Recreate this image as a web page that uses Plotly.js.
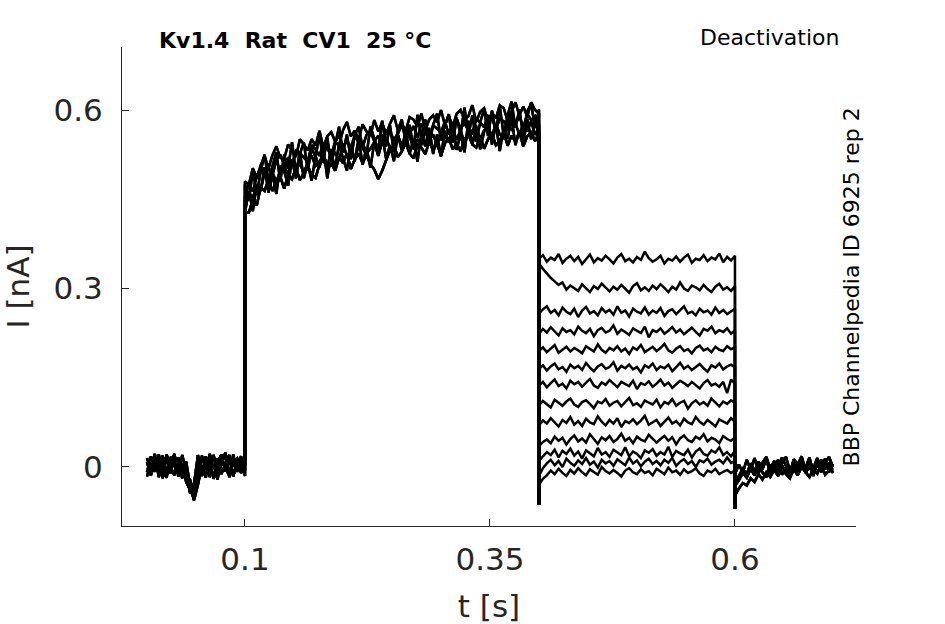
<!DOCTYPE html>
<html>
<head>
<meta charset="utf-8">
<script src="https://cdn.plot.ly/plotly-3.0.1.min.js"></script>
<style>
  html, body { margin: 0; padding: 0; background: #ffffff; }
  #chart { width: 945px; height: 624px; }
</style>
</head>
<body>
<div id="chart"></div>
<script>
// Kv1.4 deactivation protocol, 13 sweeps. Currents are read off the figure in pA,
// sampled every 4 ms; each sweep = baseline + activating step + tail step + return.
const SAMPLE_DT = 0.004; // s
const T_STEP_ON = 0.1;
const T_TAIL = 0.4;
const T_STEP_OFF = 0.6;

// capacitive transients at the tail onset and at the end of the tail step (pA)
const TAIL_SPIKE_PA = -64;
const OFF_SPIKE_PA = -70;

// 0 - 0.1 s holding current (four sweep shapes, reused round-robin)
const BASELINE_PA = [
  [8, -14, 16, -5, 19, -10, 3, 22, -16, 6, -25, -40, -52, 10, -15, 18, -6, 20, -12, 4, 24, -17, 8, 14, -10, 3],
  [-9, 18, -3, 13, -19, 21, 0, -14, 16, -8, -20, -22, -46, -12, 19, -5, 14, -20, 9, 21, -8, 16, -14, 0, 18, -6],
  [15, -5, 22, -17, 6, 14, -11, 18, 4, -19, 9, -32, -56, -30, 3, -18, 22, -3, 14, -12, 6, 20, -16, 11, -5, 12],
  [-16, 6, -8, 21, -3, -18, 17, 3, -12, 20, -9, -44, -28, 20, -9, 12, -17, 6, -21, 15, -3, -14, 21, -8, 9, -15],
];

// 0.1 - 0.4 s activating step (six sweep shapes, reused round-robin)
const ACTIVATION_PA = [
  [428, 428, 449, 440, 470, 464, 483, 464, 480, 488, 468, 491, 484, 503, 482, 495, 506, 491, 486, 508,
   518, 500, 511, 498, 520, 511, 527, 501, 517, 527, 511, 524, 509, 500, 484, 498, 516, 533, 540, 521,
   530, 545, 527, 519, 542, 537, 526, 547, 532, 544, 523, 544, 553, 534, 543, 531, 551, 559, 542, 537,
   556, 535, 551, 560, 541, 548, 564, 540, 557, 547, 563, 539, 556, 562, 548, 562],
  [447, 462, 452, 475, 464, 496, 482, 495, 479, 498, 507, 491, 516, 499, 511, 494, 512, 523, 506, 513,
   526, 505, 532, 528, 516, 543, 523, 531, 519, 539, 545, 527, 535, 546, 523, 546, 552, 537, 533, 557,
   541, 551, 557, 534, 551, 541, 564, 549, 559, 541, 564, 556, 546, 568, 550, 566, 544, 559, 565, 572,
   551, 566, 572, 556, 577, 559, 553, 572, 567, 577, 559, 576, 564, 581, 558, 572],
  [454, 476, 463, 488, 503, 491, 503, 490, 516, 525, 507, 518, 507, 531, 528, 520, 513, 541, 534, 523,
   544, 535, 524, 547, 557, 537, 548, 536, 558, 545, 537, 558, 565, 547, 557, 543, 566, 563, 550, 560,
   575, 554, 560, 573, 553, 577, 569, 552, 574, 569, 562, 581, 559, 577, 585, 569, 578, 565, 561, 585,
   579, 571, 590, 587, 567, 585, 581, 572, 595, 576, 590, 570, 594, 583, 590, 575],
  [480, 475, 502, 486, 507, 523, 502, 524, 539, 520, 518, 542, 533, 521, 551, 542, 532, 551, 540, 565,
   537, 556, 563, 547, 541, 566, 580, 556, 565, 550, 576, 564, 557, 583, 564, 579, 558, 577, 591, 566,
   577, 565, 588, 584, 572, 594, 566, 584, 591, 579, 600, 575, 590, 572, 594, 600, 583, 590, 608, 580,
   597, 603, 581, 596, 586, 608, 603, 582, 598, 613, 591, 606, 589, 613, 600, 594],
  [475, 448, 499, 457, 497, 525, 480, 506, 529, 480, 525, 502, 546, 496, 526, 546, 498, 536, 521, 558,
   514, 554, 506, 542, 572, 528, 559, 517, 557, 572, 537, 524, 572, 552, 533, 582, 539, 574, 529, 566,
   584, 546, 575, 535, 592, 555, 584, 543, 575, 594, 549, 574, 593, 545, 586, 559, 604, 557, 591, 547,
   579, 602, 556, 599, 563, 606, 557, 591, 614, 570, 601, 555, 598, 610, 571, 601],
  [428, 464, 430, 474, 464, 504, 461, 492, 459, 506, 497, 473, 517, 485, 529, 485, 511, 481, 523, 503,
   537, 485, 527, 503, 543, 519, 498, 543, 514, 553, 508, 537, 503, 546, 524, 559, 518, 541, 514, 559,
   532, 567, 526, 552, 513, 562, 539, 570, 526, 559, 522, 565, 546, 572, 533, 560, 529, 582, 542, 569,
   534, 563, 581, 542, 576, 531, 570, 552, 587, 541, 566, 544, 585, 551, 580, 558],
];

// 0.4 - 0.6 s tail currents, one per sweep (top to bottom)
const TAIL_PA = [
  [350, 356, 345, 352, 348, 358, 343, 350, 355, 346, 353, 341, 349, 357, 344, 351, 347, 355, 349, 342,
   352, 358, 346, 350, 344, 353, 348, 362, 351, 345, 349, 355, 342, 350, 347, 354, 345, 352, 357, 343,
   350, 348, 356, 346, 352, 349, 359, 344, 353, 347, 355],
  [342, 333, 325, 318, 312, 306, 310, 298, 305, 301, 296, 307, 300, 294, 304, 299, 308, 302, 295, 303,
   298, 306, 300, 293, 304, 309, 297, 302, 296, 305, 299, 307, 301, 294, 303, 298, 310, 300, 296, 305,
   302, 297, 306, 299, 294, 303, 308, 298, 302, 296, 304],
  [258, 265, 270, 259, 264, 255, 268, 261, 257, 266, 252, 263, 269, 258, 262, 255, 267, 260, 264, 256,
   270, 259, 263, 253, 266, 261, 258, 268, 256, 263, 259, 267, 254, 262, 265, 257, 263, 270, 258, 261,
   255, 266, 260, 263, 256, 268, 259, 264, 257, 262, 266],
  [224, 232, 226, 235, 228, 221, 233, 227, 230, 223, 236, 229, 225, 232, 220, 230, 234, 226, 229, 238,
   224, 231, 227, 222, 233, 229, 225, 236, 218, 230, 227, 233, 224, 229, 235, 226, 231, 223, 228, 234,
   227, 221, 232, 229, 236, 225, 230, 227, 233, 224, 230],
  [195, 201, 193, 199, 205, 192, 197, 202, 194, 200, 196, 191, 203, 198, 194, 206, 197, 192, 200, 196,
   203, 194, 199, 190, 201, 197, 205, 193, 198, 202, 195, 200, 207, 196, 192, 199, 203, 195, 198, 191,
   200, 204, 196, 199, 193, 202, 197, 195, 203, 198, 201],
  [165, 171, 162, 169, 174, 164, 168, 160, 172, 166, 170, 163, 175, 167, 161, 169, 173, 165, 168, 176,
   162, 170, 166, 172, 164, 168, 159, 171, 167, 174, 163, 169, 166, 172, 161, 168, 175, 165, 170, 163,
   168, 173, 166, 160, 171, 167, 174, 164, 169, 172, 167],
  [137, 143, 134, 141, 147, 136, 140, 132, 145, 139, 143, 135, 141, 148, 137, 133, 142, 138, 146, 140,
   134, 143, 139, 136, 145, 131, 141, 138, 144, 135, 140, 147, 137, 142, 133, 139, 145, 141, 136, 143,
   138, 132, 141, 146, 137, 140, 135, 143, 124, 147, 140],
  [104, 111, 106, 100, 113, 108, 103, 110, 115, 105, 101, 109, 112, 106, 99, 110, 107, 114, 103, 108,
   111, 102, 109, 116, 104, 107, 101, 112, 108, 105, 113, 100, 109, 106, 114, 103, 108, 111, 98, 107,
   112, 105, 109, 103, 115, 108, 102, 110, 106, 112, 108],
  [70, 78, 73, 82, 75, 68, 79, 74, 84, 71, 77, 69, 81, 75, 72, 85, 76, 70, 79, 73,
   82, 67, 77, 74, 80, 72, 78, 86, 71, 75, 79, 69, 76, 83, 73, 77, 70, 81, 75, 72,
   84, 76, 71, 79, 74, 68, 80, 77, 73, 82, 76],
  [35, 42, 46, 40, 51, 44, 49, 38, 47, 53, 43, 48, 41, 55, 46, 39, 50, 45, 52, 42,
   47, 56, 44, 49, 40, 51, 46, 43, 54, 48, 41, 47, 52, 44, 50, 38, 48, 53, 45, 42,
   51, 47, 55, 43, 49, 46, 40, 52, 47, 44, 50],
  [10, 18, 25, 20, 29, 16, 27, 22, 31, 19, 26, 14, 28, 23, 18, 32, 21, 25, 17, 29,
   24, 20, 33, 18, 26, 22, 15, 28, 24, 30, 19, 25, 21, 34, 17, 27, 23, 20, 29, 16,
   26, 31, 22, 19, 28, 24, 33, 20, 25, 18, 27],
  [-15, -2, 6, 12, 3, 10, 0, 14, 7, 2, 11, 5, 15, 4, 9, -1, 12, 6, 10, 2,
   13, 8, 3, 16, 6, 11, 1, 9, 14, 5, 10, 3, 12, 7, 15, 2, 9, 13, 5, 10,
   0, 11, 8, 14, 4, 9, 12, 6, 16, 7, 10],
  [-30, -20, -14, -6, -12, -3, -10, -15, -5, -11, -2, -9, -14, -4, -8, -13, 0, -7, -11, -5,
   -10, -16, -6, -2, -9, -12, -4, -10, -7, -14, -3, -8, -12, -1, -9, -6, -13, -4, -10, -7,
   -2, -11, -15, -6, -9, -3, -12, -8, -5, -10, -6],
];

// 0.6 - 0.7 s back at holding
const RETURN_PA = [
  [-32, -22, -10, -18, -3, -14, 6, -9, -17, 4, -6, 12, -13, 0, -18, 8, -5, 13, -10, 2, -15, 9, -3, 14, -9, 5],
  [-48, -36, -27, -31, -19, -25, -12, -21, -9, -17, -5, -15, 3, -12, -19, -4, -14, 0, -9, -17, -3, -11, 6, -13, -6, -2],
  [-12, 4, -9, 12, -4, 15, -11, 7, 17, -3, 10, -7, 16, 2, -10, 13, 4, 18, -6, 9, -2, 15, -9, 6, 17, 0],
  [-24, -15, -3, -12, 6, -7, 9, -4, 13, -11, 2, -15, 7, 17, -6, 4, -13, 10, -2, 16, -9, 3, 12, -4, 7, -10],
];

const X_TICKS = [0.1, 0.35, 0.6];
const X_TICK_TEXT = ["0.1", "0.35", "0.6"];
const Y_TICKS = [0, 0.3, 0.6];
const Y_TICK_TEXT = ["0", "0.3", "0.6"];

const INK = "#262626";
const FONT = "DejaVu Sans, Liberation Sans, sans-serif";

function segment(t0, valuesPa, xs, ys) {
  valuesPa.forEach((v, i) => {
    xs.push(t0 + i * SAMPLE_DT);
    ys.push(v / 1000); // pA -> nA
  });
}

const data = TAIL_PA.map((tail, k) => {
  const xs = [];
  const ys = [];
  segment(0, BASELINE_PA[k % BASELINE_PA.length], xs, ys);
  segment(T_STEP_ON, ACTIVATION_PA[k % ACTIVATION_PA.length], xs, ys);
  xs.push(T_TAIL);
  ys.push(TAIL_SPIKE_PA / 1000);
  segment(T_TAIL, tail, xs, ys);
  xs.push(T_STEP_OFF);
  ys.push(OFF_SPIKE_PA / 1000);
  segment(T_STEP_OFF, RETURN_PA[k % RETURN_PA.length], xs, ys);
  return {
    type: "scatter",
    mode: "lines",
    x: xs,
    y: ys,
    line: { color: "#000000", width: 2.5 },
    hoverinfo: "skip",
    showlegend: false,
  };
});

const axisStyle = (overrides = {}) => ({
  showline: true,
  linecolor: INK,
  linewidth: 1,
  ticks: "inside",
  ticklen: 7,
  tickwidth: 1,
  tickcolor: INK,
  showgrid: false,
  zeroline: false,
  tickfont: { family: FONT, size: 31, color: INK },
  ...overrides,
});

const layout = {
  width: 945,
  height: 624,
  margin: { l: 122, r: 89, t: 47, b: 98 },
  paper_bgcolor: "#ffffff",
  plot_bgcolor: "#ffffff",
  font: { family: FONT, color: INK },
  showlegend: false,
  xaxis: axisStyle({
    range: [-0.0255, 0.7235],
    tickmode: "array",
    tickvals: X_TICKS,
    ticktext: X_TICK_TEXT,
    ticklabelstandoff: 6,
    title: { text: "t [s]", font: { family: FONT, size: 31, color: INK }, standoff: 20 },
  }),
  yaxis: axisStyle({
    range: [-0.0992, 0.7059],
    tickmode: "array",
    tickvals: Y_TICKS,
    ticktext: Y_TICK_TEXT,
    ticklabelstandoff: 12,
    title: { text: "I [nA]", font: { family: FONT, size: 31, color: INK }, standoff: 14 },
  }),
  annotations: [
    {
      text: "<b>Kv1.4\u00a0\u00a0Rat\u00a0\u00a0CV1\u00a0\u00a025\u00a0°C</b>",
      xref: "paper", yref: "paper", x: 0.048, y: 1.0146,
      xanchor: "left", yanchor: "middle", showarrow: false,
      font: { family: FONT, size: 22, color: "#000000" },
    },
    {
      text: "Deactivation",
      xref: "paper", yref: "paper", x: 0.979, y: 1.0188,
      xanchor: "right", yanchor: "middle", showarrow: false,
      font: { family: FONT, size: 22, color: "#000000" },
    },
    {
      text: "BBP Channelpedia ID 6925 rep 2",
      xref: "paper", yref: "paper", x: 0.9932, y: 0.498,
      xanchor: "center", yanchor: "middle", showarrow: false, textangle: -90,
      font: { family: FONT, size: 22, color: "#000000" },
    },
  ],
};

Plotly.newPlot("chart", data, layout, { staticPlot: true, displayModeBar: false });
</script>
</body>
</html>
